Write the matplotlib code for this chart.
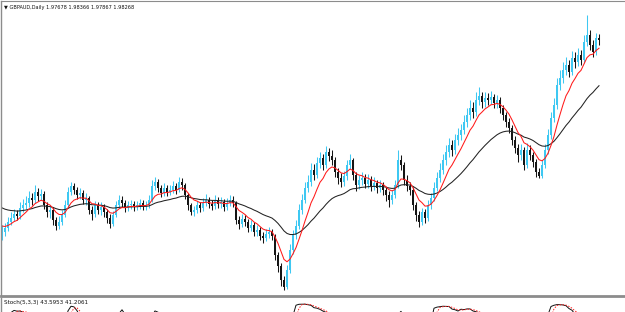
import numpy as np
import pandas as pd
import matplotlib
matplotlib.use("Agg")
import matplotlib.pyplot as plt

# GBPAUD daily bars (no price scale visible)
HIST_CLOSE = [1.835, 1.838, 1.832, 1.836, 1.830, 1.833, 1.828, 1.826, 1.830, 1.824,
              1.822, 1.826, 1.820, 1.816, 1.818, 1.812, 1.808, 1.810, 1.804, 1.800,
              1.796, 1.798, 1.792, 1.788, 1.784]

CLOSE = [1.788, 1.792, 1.798, 1.802, 1.806, 1.804, 1.812, 1.815, 1.817, 1.822,
         1.820, 1.828, 1.824, 1.826, 1.815, 1.808, 1.810, 1.800, 1.794, 1.798,
         1.805, 1.815, 1.828, 1.834, 1.830, 1.825, 1.827, 1.820, 1.822, 1.810,
         1.806, 1.815, 1.810, 1.813, 1.808, 1.802, 1.796, 1.805, 1.815, 1.820,
         1.817, 1.812, 1.815, 1.816, 1.813, 1.815, 1.817, 1.814, 1.815, 1.820,
         1.834, 1.838, 1.832, 1.827, 1.832, 1.828, 1.830, 1.834, 1.830, 1.838,
         1.835, 1.825, 1.815, 1.808, 1.810, 1.815, 1.812, 1.817, 1.820, 1.816,
         1.814, 1.820, 1.816, 1.818, 1.813, 1.817, 1.820, 1.817, 1.800, 1.796,
         1.801, 1.798, 1.792, 1.795, 1.788, 1.790, 1.784, 1.782, 1.786, 1.788,
         1.784, 1.765, 1.754, 1.740, 1.733, 1.750, 1.770, 1.785, 1.794, 1.810,
         1.820, 1.832, 1.838, 1.850, 1.845, 1.857, 1.862, 1.855, 1.868, 1.864,
         1.860, 1.848, 1.842, 1.838, 1.844, 1.855, 1.860, 1.845, 1.835, 1.840,
         1.842, 1.836, 1.840, 1.834, 1.837, 1.832, 1.835, 1.830, 1.825, 1.820,
         1.825, 1.835, 1.860, 1.855, 1.840, 1.834, 1.830, 1.815, 1.805, 1.798,
         1.808, 1.802, 1.815, 1.822, 1.832, 1.842, 1.850, 1.860, 1.868, 1.875,
         1.870, 1.880, 1.885, 1.890, 1.898, 1.905, 1.912, 1.908, 1.920, 1.924,
         1.918, 1.922, 1.920, 1.923, 1.917, 1.920, 1.912, 1.905, 1.898, 1.892,
         1.880, 1.872, 1.865, 1.870, 1.855, 1.870, 1.865, 1.858, 1.848, 1.844,
         1.855, 1.870, 1.885, 1.902, 1.915, 1.935, 1.942, 1.950, 1.955, 1.948,
         1.962, 1.958, 1.965, 1.960, 1.978, 1.985, 1.975, 1.968, 1.982, 1.980]

HIGH = [1.795, 1.797, 1.803, 1.808, 1.811, 1.810, 1.818, 1.821, 1.824, 1.829,
        1.827, 1.835, 1.832, 1.831, 1.829, 1.818, 1.815, 1.813, 1.803, 1.804,
        1.810, 1.820, 1.833, 1.838, 1.837, 1.833, 1.832, 1.830, 1.827, 1.824,
        1.814, 1.819, 1.818, 1.818, 1.816, 1.811, 1.806, 1.809, 1.819, 1.825,
        1.824, 1.820, 1.819, 1.820, 1.819, 1.819, 1.821, 1.820, 1.819, 1.825,
        1.840, 1.843, 1.841, 1.835, 1.837, 1.835, 1.835, 1.839, 1.837, 1.843,
        1.842, 1.837, 1.827, 1.817, 1.814, 1.819, 1.818, 1.822, 1.826, 1.823,
        1.820, 1.825, 1.823, 1.823, 1.821, 1.822, 1.825, 1.824, 1.819, 1.804,
        1.806, 1.805, 1.801, 1.800, 1.798, 1.795, 1.793, 1.788, 1.791, 1.793,
        1.791, 1.786, 1.768, 1.757, 1.744, 1.755, 1.776, 1.790, 1.800, 1.816,
        1.826, 1.838, 1.845, 1.857, 1.856, 1.863, 1.868, 1.866, 1.874, 1.872,
        1.870, 1.863, 1.852, 1.847, 1.849, 1.860, 1.866, 1.862, 1.848, 1.845,
        1.848, 1.846, 1.846, 1.844, 1.843, 1.840, 1.840, 1.838, 1.833, 1.829,
        1.830, 1.840, 1.870, 1.865, 1.858, 1.845, 1.838, 1.833, 1.818, 1.809,
        1.812, 1.811, 1.820, 1.827, 1.838, 1.848, 1.857, 1.866, 1.875, 1.882,
        1.880, 1.886, 1.892, 1.896, 1.905, 1.912, 1.920, 1.918, 1.928, 1.933,
        1.928, 1.928, 1.927, 1.929, 1.926, 1.925, 1.923, 1.915, 1.908, 1.902,
        1.895, 1.884, 1.876, 1.876, 1.873, 1.877, 1.875, 1.868, 1.861, 1.852,
        1.860, 1.876, 1.891, 1.908, 1.922, 1.942, 1.950, 1.958, 1.963, 1.960,
        1.969, 1.968, 1.972, 1.970, 1.985, 2.005, 1.990, 1.980, 1.987, 1.986]

LOW = [1.780, 1.784, 1.789, 1.795, 1.799, 1.800, 1.801, 1.808, 1.811, 1.813,
       1.815, 1.817, 1.819, 1.820, 1.811, 1.803, 1.802, 1.795, 1.790, 1.791,
       1.795, 1.803, 1.812, 1.825, 1.826, 1.821, 1.821, 1.816, 1.815, 1.806,
       1.800, 1.803, 1.806, 1.805, 1.803, 1.797, 1.792, 1.794, 1.803, 1.812,
       1.813, 1.808, 1.809, 1.811, 1.809, 1.810, 1.811, 1.810, 1.810, 1.812,
       1.818, 1.830, 1.828, 1.823, 1.824, 1.824, 1.825, 1.827, 1.826, 1.828,
       1.830, 1.821, 1.810, 1.805, 1.804, 1.807, 1.808, 1.809, 1.814, 1.812,
       1.810, 1.811, 1.812, 1.812, 1.809, 1.810, 1.814, 1.813, 1.796, 1.791,
       1.793, 1.794, 1.788, 1.789, 1.784, 1.784, 1.780, 1.777, 1.779, 1.782,
       1.780, 1.760, 1.748, 1.734, 1.730, 1.731, 1.747, 1.766, 1.781, 1.791,
       1.806, 1.817, 1.828, 1.834, 1.840, 1.842, 1.852, 1.850, 1.852, 1.859,
       1.855, 1.843, 1.836, 1.833, 1.834, 1.840, 1.851, 1.840, 1.829, 1.831,
       1.835, 1.832, 1.832, 1.829, 1.830, 1.827, 1.828, 1.825, 1.819, 1.813,
       1.816, 1.822, 1.832, 1.850, 1.835, 1.829, 1.825, 1.810, 1.799, 1.793,
       1.795, 1.797, 1.799, 1.811, 1.819, 1.829, 1.838, 1.846, 1.855, 1.863,
       1.864, 1.866, 1.875, 1.880, 1.886, 1.893, 1.900, 1.902, 1.904, 1.915,
       1.912, 1.913, 1.915, 1.916, 1.912, 1.912, 1.907, 1.900, 1.893, 1.887,
       1.875, 1.867, 1.858, 1.860, 1.850, 1.852, 1.860, 1.853, 1.843, 1.842,
       1.842, 1.852, 1.866, 1.881, 1.898, 1.911, 1.930, 1.937, 1.945, 1.943,
       1.945, 1.952, 1.954, 1.955, 1.957, 1.974, 1.970, 1.963, 1.965, 1.975]

TITLE = "\u25bc GBPAUD,Daily 1.97678 1.98366 1.97867 1.98268"
STOCH_LABEL = "Stoch(5,3,3) 43.5953 41.2061"

UP_COLOR = "#3ec8f2"
DOWN_COLOR = "#151515"
FRAME = "#8c8c8c"

n_hist = len(HIST_CLOSE)
all_close = pd.Series(HIST_CLOSE + CLOSE)
close = np.array(CLOSE)
high = np.array(HIGH)
low = np.array(LOW)
opens = all_close.shift(1).to_numpy()[n_hist:]
x = np.arange(len(CLOSE))

# moving averages: fast red, slow black
ma_fast = all_close.ewm(span=8, adjust=False).mean().to_numpy()[n_hist:]
ma_slow = all_close.ewm(span=30, adjust=False).mean().to_numpy()[n_hist:]

# stochastic 5,3,3 on the visible bars
hs, ls, cs = pd.Series(high), pd.Series(low), pd.Series(close)
hh = hs.rolling(5, min_periods=1).max()
ll = ls.rolling(5, min_periods=1).min()
num = (cs - ll).rolling(3, min_periods=1).sum()
den = (hh - ll).rolling(3, min_periods=1).sum()
stoch_main = (100 * num / den).to_numpy()
stoch_sig = pd.Series(stoch_main).rolling(3, min_periods=1).mean().to_numpy()

W, H = 625, 312
fig = plt.figure(figsize=(W / 100, H / 100), dpi=100)
fig.patch.set_facecolor("white")

ax = fig.add_axes([1 / W, (H - 296) / H, 624 / W, 295 / H])
ax2 = fig.add_axes([1 / W, (H - 355) / H, 624 / W, 57 / H])

up = close >= opens
for mask, col in ((up, UP_COLOR), (~up, DOWN_COLOR)):
    ax.vlines(x[mask], low[mask], high[mask], color=col, linewidth=0.75)
    body = np.maximum(np.abs(close[mask] - opens[mask]), 0.0012)
    ax.bar(x[mask], body, bottom=np.minimum(close[mask], opens[mask]),
           width=0.62, color=col, linewidth=0)

ax.plot(x, ma_slow, color="#222222", linewidth=0.75)
ax.plot(x, ma_fast, color="#ff1a1a", linewidth=0.75)

ax.set_xlim(-1 / 3, (W - 2) / 3)
ax.set_ylim(2.02 - 296 / 1000, 2.02 - 1 / 1000)
ax.set_xticks([])
ax.set_yticks([])
ax.spines["right"].set_visible(False)
ax.spines["top"].set_color(FRAME)
ax.spines["left"].set_color(FRAME)
ax.spines["bottom"].set_color(FRAME)
ax.spines["bottom"].set_linewidth(2.0)
ax.spines["left"].set_linewidth(1.0)

ax2.plot(x, stoch_main, color="#111111", linewidth=0.7)
ax2.plot(x, stoch_sig, color="#ff2020", linewidth=0.7, linestyle=(0, (1.5, 1.5)))
ax2.set_xlim(ax.get_xlim())
ax2.set_ylim(-4, 104)
ax2.set_xticks([])
ax2.set_yticks([])
for side in ("right", "bottom", "top"):
    ax2.spines[side].set_visible(False)
ax2.spines["left"].set_color(FRAME)
ax2.spines["left"].set_linewidth(1.0)

fig.text(4 / W, 1 - 7 / H, TITLE, fontsize=3.6, va="center", ha="left", color="#111111")
fig.text(4 / W, 1 - 302.5 / H, STOCH_LABEL, fontsize=4.1, va="center", ha="left",
         color="#111111")

fig.savefig("out.png", dpi=100, facecolor="white")
